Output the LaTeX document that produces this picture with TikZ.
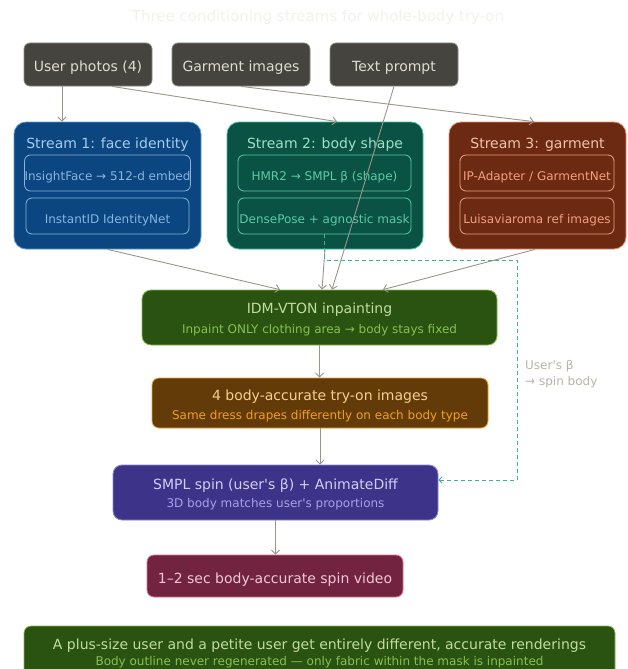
\documentclass[tikz,border=0pt]{standalone}
\usepackage{fontspec}
\setmainfont{DejaVu Sans}[Ligatures=TeXOff]
\usetikzlibrary{arrows.meta}
\definecolor{arrowc}{HTML}{9A968C}
\definecolor{topfill}{HTML}{45443F}
\definecolor{topdraw}{HTML}{8A8880}
\definecolor{toptext}{HTML}{E0DCD0}
\definecolor{sAfill}{HTML}{0C4680}
\definecolor{sAdraw}{HTML}{5B9BD5}
\definecolor{sAtitle}{HTML}{A9CBEE}
\definecolor{sAtext}{HTML}{88B4E0}
\definecolor{sBfill}{HTML}{0A5244}
\definecolor{sBdraw}{HTML}{3EC09A}
\definecolor{sBtitle}{HTML}{A0E0C8}
\definecolor{sBtext}{HTML}{5CCAA4}
\definecolor{sCfill}{HTML}{6D2A12}
\definecolor{sCdraw}{HTML}{E88A6A}
\definecolor{sCtitle}{HTML}{F2C4AC}
\definecolor{sCtext}{HTML}{F0A080}
\definecolor{gfill}{HTML}{2A5210}
\definecolor{gdraw}{HTML}{86B84C}
\definecolor{gtitle}{HTML}{C2DCA2}
\definecolor{gtext}{HTML}{88C052}
\definecolor{ofill}{HTML}{633B08}
\definecolor{odraw}{HTML}{E8A030}
\definecolor{otitle}{HTML}{F4D090}
\definecolor{otext}{HTML}{F0A020}
\definecolor{pfill}{HTML}{3D3489}
\definecolor{pdraw}{HTML}{8C84D8}
\definecolor{ptitle}{HTML}{D2CEF4}
\definecolor{ptext}{HTML}{A8A0E8}
\definecolor{rfill}{HTML}{72233F}
\definecolor{rdraw}{HTML}{E07090}
\definecolor{rtext}{HTML}{F0C8D4}
\definecolor{dashc}{HTML}{3CB48C}
\definecolor{notec}{HTML}{B8B4A8}
\definecolor{titlec}{HTML}{F2F2EC}
\newcommand\lowtxt[1]{\raisebox{-7.3pt}[0pt][0pt]{#1}}
\tikzset{
  fbig/.style={font=\fontsize{14}{16}\selectfont},
  fsmall/.style={font=\fontsize{12}{14.5}\selectfont},
  box/.style={rectangle, rounded corners=#1, line width=0.8pt, inner sep=0pt},
  txt/.style={anchor=base, inner sep=0pt},
  topbox/.style={box=6pt, fill=topfill, draw=topdraw, text=toptext, fbig, minimum width=128pt, minimum height=43pt},
  arr/.style={draw=arrowc, line width=0.9pt, -{Straight Barb[length=4pt,width=8pt]}},
  dasharr/.style={draw=dashc, line width=0.9pt, dash pattern=on 4pt off 3pt, -{Straight Barb[length=3pt,width=6pt]}},
}
\begin{document}
\begin{tikzpicture}[x=1pt,y=-1pt]
\useasboundingbox (0,0) rectangle (628,669);
\fill[white] (0,0) rectangle (628,669);

\node[txt, font=\fontsize{15}{17}\selectfont, text=titlec] (title) at (318,21.4) {Three conditioning streams for whole-body try-on};

% top inputs
\node[topbox] (user) at (88,64.5) {\lowtxt{User photos (4)}};
\node[topbox, minimum width=138pt] (garm) at (241,64.5) {\lowtxt{Garment images}};
\node[topbox] (prompt) at (394,64.5) {\lowtxt{Text prompt}};

% stream 1
\node[box=12pt, fill=sAfill, draw=sAdraw, minimum width=187pt, minimum height=127pt] (s1) at (107.5,185.5) {};
\node[txt, fbig, text=sAtitle] (s1t) at (107.5,148) {Stream 1: face identity};
\node[box=6pt, draw=sAtext, fsmall, text=sAtext, minimum width=163pt, minimum height=36pt] (a1) at (107.5,173) {\lowtxt{InsightFace → 512-d embed}};
\node[box=6pt, draw=sAtext, fsmall, text=sAtext, minimum width=163pt, minimum height=36pt] (a2) at (107.5,216) {\lowtxt{InstantID IdentityNet}};

% stream 2
\node[box=12pt, fill=sBfill, draw=sBdraw, minimum width=196pt, minimum height=127pt] (s2) at (325,185.5) {};
\node[txt, fbig, text=sBtitle] (s2t) at (325,148) {Stream 2: body shape};
\node[box=6pt, draw=sBtext, fsmall, text=sBtext, minimum width=173pt, minimum height=36pt] (b1) at (324.5,173) {\lowtxt{HMR2 → SMPL β (shape)}};
\node[box=6pt, draw=sBtext, fsmall, text=sBtext, minimum width=173pt, minimum height=36pt] (b2) at (324.5,216) {\lowtxt{DensePose + agnostic mask}};

% stream 3
\node[box=12pt, fill=sCfill, draw=sCdraw, minimum width=177pt, minimum height=127pt] (s3) at (537.5,185.5) {};
\node[txt, fbig, text=sCtitle] (s3t) at (537.5,148) {Stream 3: garment};
\node[box=6pt, draw=sCtext, fsmall, text=sCtext, minimum width=154pt, minimum height=36pt] (c1) at (537,173) {\lowtxt{IP-Adapter / GarmentNet}};
\node[box=6pt, draw=sCtext, fsmall, text=sCtext, minimum width=154pt, minimum height=36pt] (c2) at (537,216) {\lowtxt{Luisaviaroma ref images}};

% IDM-VTON
\node[box=9pt, fill=gfill, draw=gdraw, minimum width=355pt, minimum height=55pt] (idm) at (319.5,317.5) {};
\node[txt, fbig, text=gtitle] (idmt) at (319.5,313) {IDM-VTON inpainting};
\node[txt, fsmall, text=gtext] (idms) at (319.5,333.3) {Inpaint ONLY clothing area → body stays fixed};

% try-on images
\node[box=7pt, fill=ofill, draw=odraw, minimum width=336pt, minimum height=50pt] (imgs) at (320,403) {};
\node[txt, fbig, text=otitle] (imgst) at (320,400) {4 body-accurate try-on images};
\node[txt, fsmall, text=otext] (imgss) at (320,419.3) {Same dress drapes differently on each body type};

% SMPL spin
\node[box=9pt, fill=pfill, draw=pdraw, minimum width=325pt, minimum height=55pt] (smpl) at (275.5,492.5) {};
\node[txt, fbig, text=ptitle] (smplt) at (275.5,489) {SMPL spin (user's β) + AnimateDiff};
\node[txt, fsmall, text=ptext] (smpls) at (275.5,507.3) {3D body matches user's proportions};

% video
\node[box=7pt, fill=rfill, draw=rdraw, fbig, text=rtext, minimum width=256pt, minimum height=42pt] (video) at (275,576) {\lowtxt{1–2 sec body-accurate spin video}};

% bottom banner
\node[box=7pt, fill=gfill, draw=gdraw, minimum width=591pt, minimum height=52pt] (banner) at (319.5,652) {};
\node[txt, fbig, text=gtitle] (bant) at (319.5,649) {A plus-size user and a petite user get entirely different, accurate renderings};
\node[txt, fsmall, text=gtext] (bans) at (319.5,665.3) {Body outline never regenerated — only fabric within the mask is inpainted};

% note
\node[txt, fsmall, text=notec, anchor=base west] (note1) at (525,369.3) {User's β};
\node[txt, fsmall, text=notec, anchor=base west] (note2) at (525,385.3) {→ spin body};

% connectors
\draw[arr] ([xshift=-26pt]user.south) -- ([xshift=-26pt]user.south |- s1.north);
\draw[arr] ([xshift=24pt]user.south) -- ([xshift=12pt]s2.north);
\draw[arr] (garm.south) -- ([xshift=-3.5pt]s3.north);
\draw[arr] (s1.south) -- ([xshift=-39.5pt]idm.north);
\draw[arr] (s2.south) -- ([xshift=2.5pt]idm.north);
\draw[arr] (prompt.south) -- ([xshift=12.5pt]idm.north);
\draw[arr] ([xshift=-2.5pt]s3.south) -- ([xshift=63.5pt]idm.north);
\draw[arr] (idm.south) -- (idm.south |- imgs.north);
\draw[arr] (imgs.south) -- (imgs.south |- smpl.north);
\draw[arr] (smpl.south) -- (smpl.south |- video.north);

\coordinate (dc) at (517,260);
\draw[dasharr] (b2.south) |- (dc) |- ([yshift=12.5pt]smpl.east);
\end{tikzpicture}
\end{document}
